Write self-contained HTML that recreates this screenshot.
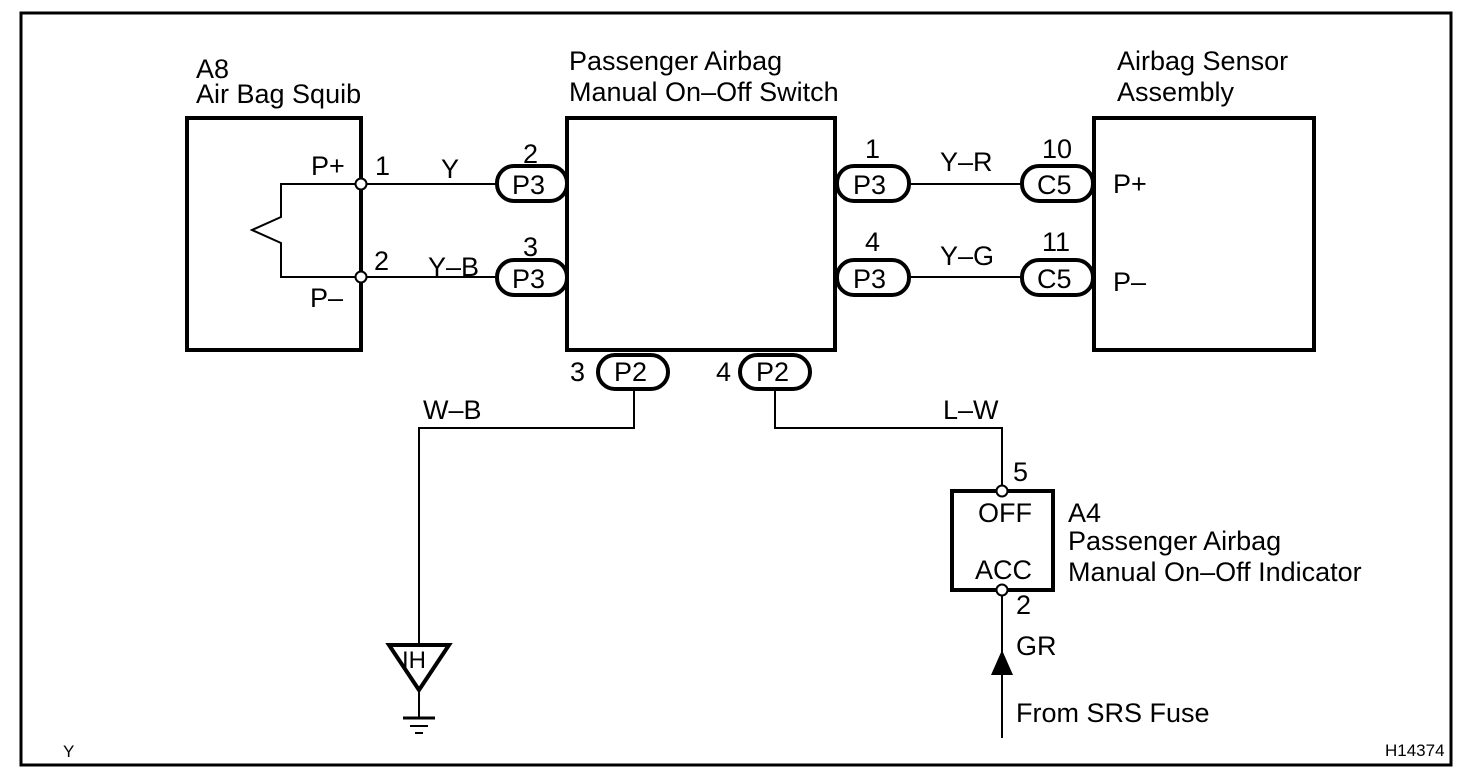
<!DOCTYPE html>
<html><head><meta charset="utf-8"><style>
html,body{margin:0;padding:0;background:#fff;}
svg{display:block;}
text{font-family:"Liberation Sans",Arial,sans-serif;font-size:27px;fill:#000;}
</style></head><body>
<svg width="1472" height="784" viewBox="0 0 1472 784" xmlns="http://www.w3.org/2000/svg">
<rect x="21" y="13" width="1430" height="752" fill="none" stroke="#000" stroke-width="3"/>
<g fill="none" stroke="#000">
<rect x="187" y="118" width="174" height="232" stroke-width="4"/>
<rect x="567" y="118" width="268" height="232" stroke-width="4"/>
<rect x="1094" y="118" width="220" height="232" stroke-width="4"/>
<rect x="952" y="491" width="101" height="99" stroke-width="4"/>
<polyline points="361,184 281,184 281,217 252,230 281,243 281,277 361,277" stroke-width="2"/>
<line x1="361" y1="184" x2="497" y2="184" stroke-width="2"/>
<line x1="361" y1="277" x2="497" y2="277" stroke-width="2"/>
<line x1="909" y1="184" x2="1022" y2="184" stroke-width="2"/>
<line x1="909" y1="277" x2="1022" y2="277" stroke-width="2"/>
<polyline points="634,389 634,428 419,428 419,645" stroke-width="2"/>
<polyline points="775,389 775,428 1002,428 1002,491" stroke-width="2"/>
<line x1="1002" y1="590" x2="1002" y2="738" stroke-width="2"/>
<rect x="497" y="166" width="70" height="35" rx="17" stroke-width="4" fill="#fff"/>
<rect x="497" y="260" width="70" height="35" rx="17" stroke-width="4" fill="#fff"/>
<rect x="837" y="166" width="72" height="35" rx="17" stroke-width="4" fill="#fff"/>
<rect x="837" y="260" width="72" height="35" rx="17" stroke-width="4" fill="#fff"/>
<rect x="1022" y="166" width="71" height="35" rx="17" stroke-width="4" fill="#fff"/>
<rect x="1022" y="260" width="71" height="35" rx="17" stroke-width="4" fill="#fff"/>
<rect x="598" y="355" width="70" height="34" rx="17" stroke-width="4" fill="#fff"/>
<rect x="740" y="355" width="70" height="34" rx="17" stroke-width="4" fill="#fff"/>
<polygon points="389,645 449,645 419,690" stroke-width="4"/>
<line x1="419" y1="690" x2="419" y2="718" stroke-width="2"/>
<line x1="403" y1="718" x2="435" y2="718" stroke-width="3"/>
<line x1="410" y1="726" x2="428" y2="726" stroke-width="2"/>
<line x1="415" y1="733" x2="423" y2="733" stroke-width="2"/>
<circle cx="361" cy="184" r="5.5" stroke-width="2" fill="#fff"/>
<circle cx="361" cy="277" r="5.5" stroke-width="2" fill="#fff"/>
<circle cx="1002" cy="491" r="5.5" stroke-width="2" fill="#fff"/>
<circle cx="1002" cy="590" r="5.5" stroke-width="2" fill="#fff"/>
</g>
<polygon points="1002,650 991,675 1013,675" fill="#000"/>
<text x="196" y="78">A8</text>
<text x="196" y="103">Air Bag Squib</text>
<text x="569" y="70">Passenger Airbag</text>
<text x="569" y="101">Manual On–Off Switch</text>
<text x="1117" y="70">Airbag Sensor</text>
<text x="1117" y="101">Assembly</text>
<text x="311" y="175">P+</text>
<text x="310" y="307">P–</text>
<text x="375" y="175">1</text>
<text x="374" y="270">2</text>
<text x="441" y="178">Y</text>
<text x="428" y="276">Y–B</text>
<text x="523" y="163">2</text>
<text x="523" y="256">3</text>
<text x="512" y="194">P3</text>
<text x="512" y="288">P3</text>
<text x="865" y="158">1</text>
<text x="865" y="251">4</text>
<text x="853" y="194">P3</text>
<text x="853" y="288">P3</text>
<text x="940" y="171">Y–R</text>
<text x="940" y="265">Y–G</text>
<text x="1042" y="158">10</text>
<text x="1042" y="251">11</text>
<text x="1037" y="194">C5</text>
<text x="1037" y="288">C5</text>
<text x="1113" y="193">P+</text>
<text x="1113" y="291">P–</text>
<text x="570" y="381">3</text>
<text x="614" y="381">P2</text>
<text x="716" y="381">4</text>
<text x="756" y="381">P2</text>
<text x="423" y="419">W–B</text>
<text x="943" y="419">L–W</text>
<text x="1013" y="481">5</text>
<text x="978" y="522">OFF</text>
<text x="975" y="579">ACC</text>
<text x="1016" y="614">2</text>
<text x="1016" y="655">GR</text>
<text x="1068" y="522">A4</text>
<text x="1068" y="550">Passenger Airbag</text>
<text x="1068" y="581">Manual On–Off Indicator</text>
<text x="1016" y="722">From SRS Fuse</text>
<text x="402" y="668" style="font-size:24px">IH</text>
<text x="63" y="757" style="font-size:17px">Y</text>
<text x="1385" y="756" style="font-size:17px">H14374</text>
</svg>
</body></html>
